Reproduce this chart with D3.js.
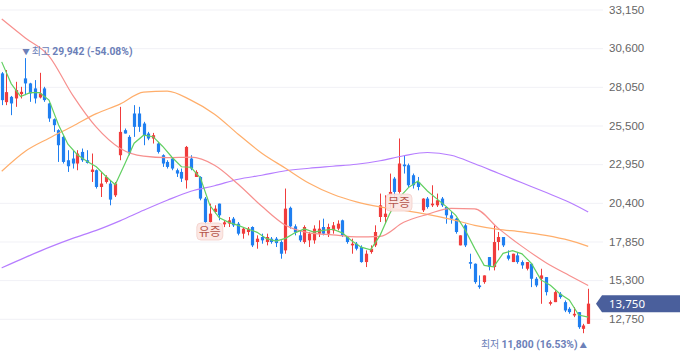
<!DOCTYPE html>
<html><head><meta charset="utf-8">
<script src="https://cdn.jsdelivr.net/npm/d3@7"></script>
<style>
html,body{margin:0;padding:0;background:#fff;}
svg{display:block;font-family:"Noto Sans","Noto Sans CJK KR",sans-serif;}
</style></head>
<body>
<svg id="chart" width="680" height="358"></svg>
<script>
// ---- data ----
const openP  = [28936,27040,27390,27284,27568,28606,28275,27945,27350,27945,26954,25910,25190,24748,23208,23320,22990,23757,23208,22436,22548,21445,21775,21670,20896,23539,25190,24748,26291,26291,25630,24970,24640,24310,23539,23096,23320,22548,22436,21887,23320,22105,22105,20678,19134,19793,20346,18980,19030,19355,19024,18364,18474,18804,17814,18144,17814,18034,18034,17814,17263,20070,18848,18254,17814,17924,17924,18364,18804,18364,18584,18694,19245,18144,17593,17703,17483,16492,17153,17593,19465,19465,20896,21997,21116,22924,22878,22218,21775,19905,20678,20236,20236,20678,20125,19575,19355,17593,18914,16492,16382,14951,15171,16823,16162,17814,18144,16933,16492,16933,16492,16052,16382,15391,15391,15501,13740,13850,14400,13850,13410,12969,13190,12088,12418];
const highP  = [29022,29154,27450,28381,28050,29942,28315,28493,28975,28050,27000,25963,25250,24860,23869,23869,23869,23980,23869,23651,22600,22436,22218,21887,21775,26730,25300,24860,26842,26730,25740,25078,25010,24420,23600,23208,23400,22660,22660,24150,23539,22548,22150,20784,20346,20236,20346,19245,19465,19465,19134,18804,18804,18850,18254,18364,18364,18144,18144,17924,21340,20150,18980,18584,18914,18474,18914,19245,19355,19024,19134,19245,19290,18190,18034,17814,17593,17263,17593,18914,21010,20896,22328,22105,24642,23539,22990,22330,22105,20700,20784,21557,21010,20784,20150,19795,19400,18254,19024,17043,16400,15611,15611,16823,18914,18474,18144,17263,17043,17153,16602,16492,16382,15501,16052,15501,13960,14621,14510,13960,13520,13520,13190,12418,14730];
const lowP   = [26842,26842,26181,26730,27284,27502,27060,26954,27284,27060,25740,25078,23096,22990,22436,22660,22548,23096,22990,21775,21340,20784,21670,20236,20784,23208,24970,23539,24748,25078,24199,24530,24310,23651,22768,22660,22548,22105,21775,21340,22548,22105,20566,18804,19100,19700,19245,18800,18804,18804,18254,18034,18254,17483,17373,17703,17593,17703,17483,16713,17043,18700,18254,17814,17703,17483,17703,18144,18254,18144,18364,18584,18144,17703,17043,17263,16450,16162,17043,17483,19134,19024,19795,20566,21010,22330,21445,21340,21227,19795,20016,20125,20125,20125,19024,19024,18364,17593,17483,16052,15060,14730,15060,15942,15942,17263,17483,16602,16492,16382,16052,15942,14840,14840,13740,14290,13630,13850,14070,13190,13080,12860,12088,11800,12418];
const closeP = [27172,27700,26954,27833,27720,28275,27615,27284,27615,27172,25963,25521,24199,23096,22812,22990,23651,23208,23030,22594,21445,21670,22105,20612,21670,25078,24970,23651,25410,25410,24860,24640,24860,23757,22990,22768,22660,22330,21997,24086,22660,22436,20678,19134,19685,20016,19575,19112,19245,18914,18364,18694,18694,17593,18034,17924,18144,17814,17743,17043,20016,18848,18452,17924,18804,18364,18694,18694,18364,18804,18914,19024,18254,17814,17703,17373,16492,17043,17373,18474,20236,19685,21116,21116,22991,22812,21557,21557,21445,20678,20125,20346,20566,20236,19575,19355,18474,18254,17593,16382,15171,14840,15611,16162,17813,18144,17593,16713,17043,16492,16272,16492,15391,14951,15611,14510,13850,14510,14180,13299,13190,13080,12198,12308,13750];

// moving averages
const maLongIdx = [0,5,10,15,20,25,30,35,40,45,50,55,60,65,70,75,80,85,90,95,100,105,110,115,120,124];
const ma20  = [32523,31268,30079,27502,25388,24001,23473,23374,23407,22878,21623,20169,18914,18418,18286,18154,18188,19113,19641,20038,20005,18716,17527,16470,15611,14951];
const ma60  = [22482,23803,24662,25454,26280,26908,27701,27767,27172,26247,24926,23671,22680,21689,20962,20467,20137,19905,19641,19311,18914,18650,18485,18254,17924,17527];
const ma120 = [16107,16801,17461,18056,18584,19212,19905,20566,21160,21524,21953,22218,22515,22680,22812,22944,23175,23506,23717,23539,22977,22350,21722,21094,20434,19793];
const ma5   = [29695,28262,27403,27668,27668,27172,25553,24265,23572,23142,22779,22151,21590,22944,24331,24860,24761,24133,23407,22779,22746,22052,20236,19410,19113,18914,18676,18452,18036,17877,18056,18419,18676,18471,18584,18657,18419,17904,17474,17296,18254,19661,20731,21404,21841,21180,20659,20150,19575,18604,17395,16272,16173,17065,17243,17032,16405,15315,14964,14403,13987,13002,12857];
const ma5Step = 2;

const yTicks = [12750,15300,17850,20400,22950,25500,28050,30600,33150];
const lastPrice = 13750;
const highInfo = {idx:5, value:29942, pct:"-54.08%"};
const lowInfo  = {idx:123, value:11800, pct:"16.53%"};
const events = [{idx:44, label:"유증"},{idx:84, label:"무증"}];

// ---- drawing ----
const svg = d3.select("#chart");
const n = closeP.length;
const x = d3.scaleLinear().domain([0, n-1]).range([1.7, 588.2]);
const y = d3.scaleLinear().domain([12750, 33150]).range([318.8, 9.5]);
const fmt = d3.format(",");

// grid + right axis
const axis = d3.axisRight(y).tickValues(yTicks).tickSize(-603).tickPadding(6).tickFormat(fmt);
const gA = svg.append("g").attr("transform","translate(603,0)").call(axis);
gA.select(".domain").remove();
gA.selectAll(".tick line").attr("stroke","#f1f1f6").attr("stroke-width",1);
gA.selectAll(".tick text").attr("fill","#666").attr("font-size","11.5px").attr("x",6);

const RED = "#f03c3c", BLUE = "#1f7ff0";
const bw = 3.2;
const cg = svg.append("g");
const idx = d3.range(n);
cg.selectAll("line.w").data(idx).join("line")
  .attr("x1", i=>Math.round(x(i))+0.5).attr("x2", i=>Math.round(x(i))+0.5)
  .attr("y1", i=>y(highP[i])).attr("y2", i=>y(lowP[i]))
  .attr("stroke", i=>closeP[i]>=openP[i]?RED:BLUE).attr("stroke-width",1);
cg.selectAll("rect.b").data(idx).join("rect")
  .attr("x", i=>Math.round(x(i))+0.5-bw/2)
  .attr("width", bw)
  .attr("y", i=>y(Math.max(openP[i],closeP[i])))
  .attr("height", i=>Math.max(1, Math.abs(y(openP[i])-y(closeP[i]))))
  .attr("fill", i=>closeP[i]>=openP[i]?RED:BLUE);

// moving averages
function maLine(vals, idxs, color, curve){
  const pts = vals.map((v,k)=>[x(idxs[k]), y(v)]);
  svg.append("path").attr("d", d3.line().curve(curve)(pts))
    .attr("fill","none").attr("stroke",color).attr("stroke-width",1.2);
}
maLine(ma120, maLongIdx, "#b67dff", d3.curveMonotoneX);
maLine(ma60,  maLongIdx, "#ffae6b", d3.curveMonotoneX);
maLine(ma20,  maLongIdx, "#f7908e", d3.curveMonotoneX);
maLine(ma5, ma5.map((v,k)=>k*ma5Step), "#62d062", d3.curveLinear);

// event labels
events.forEach(e=>{
  const cx = x(e.idx), top = y(lowP[e.idx]) + 0.5;
  const g = svg.append("g");
  g.append("rect").attr("x", cx-13).attr("y", top).attr("width",26).attr("height",17).attr("rx",4)
    .attr("fill","#fce6e2").attr("fill-opacity",0.9).attr("stroke","#f2cfc9").attr("stroke-width",0.8);
  g.append("text").attr("x", cx).attr("y", top+13).attr("text-anchor","middle")
    .attr("font-family","'Noto Sans CJK KR'").attr("font-size","12px").attr("fill","#b4554b").text(e.label);
});

// high annotation
const annColor = "#6c80b8";
const hx = x(highInfo.idx) - 3, hy = y(highInfo.value) - 3;
const ht = svg.append("text").attr("x", hx).attr("y", hy).attr("font-size","10.3px").attr("fill",annColor)
  .attr("font-family","Roboto,'Noto Sans CJK KR',sans-serif");
ht.append("tspan").attr("font-size","7.5px").text("▼ ");
ht.append("tspan").attr("font-family","'Noto Sans CJK KR'").attr("font-size","10px").text("최고 ");
ht.append("tspan").attr("font-weight","bold").text(fmt(highInfo.value)+" ("+highInfo.pct+")");

// low annotation
const lx = x(lowInfo.idx) + 3.5, ly = y(lowInfo.value) + 15;
const lt = svg.append("text").attr("x", lx).attr("y", ly).attr("text-anchor","end").attr("font-size","10.3px").attr("fill",annColor)
  .attr("font-family","Roboto,'Noto Sans CJK KR',sans-serif");
lt.append("tspan").attr("font-family","'Noto Sans CJK KR'").attr("font-size","10px").text("최저 ");
lt.append("tspan").attr("font-weight","bold").text(fmt(lowInfo.value)+" ("+lowInfo.pct+")");
lt.append("tspan").attr("font-size","7.5px").text(" ▲");

// last price tag
const py = y(lastPrice);
svg.append("path").attr("d", `M596,${py} L602,${py-8.5} L680,${py-8.5} L680,${py+8.5} L602,${py+8.5} Z`).attr("fill","#4a5f9c");
svg.append("text").attr("x",609).attr("y",py+4).attr("fill","#fff").attr("font-size","11.5px").text(fmt(lastPrice));
</script>
</body></html>
